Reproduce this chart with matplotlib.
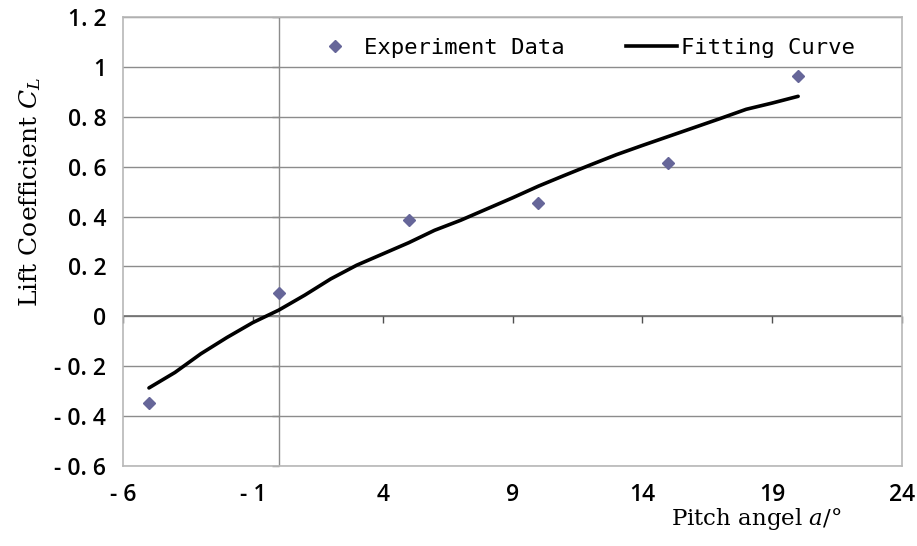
import numpy as np
import matplotlib.pyplot as plt
from matplotlib.lines import Line2D

plt.rcParams['mathtext.fontset'] = 'dejavuserif'

# experiment points
exp_angle = [-5, 0, 5, 10, 15, 20]
exp_cl = [-0.349, 0.093, 0.385, 0.453, 0.614, 0.965]

fit_angle = list(range(-5, 21))
fit_cl = [-0.287, -0.225, -0.15, -0.085, -0.025, 0.025, 0.085, 0.15, 0.205, 0.25,
          0.295, 0.345, 0.385, 0.43, 0.475, 0.522, 0.565, 0.607, 0.648, 0.685,
          0.721, 0.757, 0.793, 0.83, 0.855, 0.882]

xticks = [-6, -1, 4, 9, 14, 19, 24]
xtick_labels = ['- 6', '- 1', '4', '9', '14', '19', '24']
yticks = [-0.6, -0.4, -0.2, 0, 0.2, 0.4, 0.6, 0.8, 1.0, 1.2]
ytick_labels = ['- 0. 6', '- 0. 4', '- 0. 2', '0', '0. 2', '0. 4', '0. 6', '0. 8', '1', '1. 2']

fig = plt.figure(figsize=(9.17, 5.46), dpi=100)
ax = fig.add_axes([123/917, 1-466/546, 779/917, 449/546])

ax.set_xlim(-6, 24)
ax.set_ylim(-0.6, 1.2)
ax.set_xticks(xticks)
ax.set_xticklabels(xtick_labels)
ax.set_yticks(yticks)
ax.set_yticklabels(ytick_labels)
ax.tick_params(length=0, labelsize=16.5, pad=12)
for lab in ax.get_xticklabels() + ax.get_yticklabels():
    lab.set_family('Open Sans')
    lab.set_fontweight('semibold')

ax.yaxis.grid(True, color='#8c8c8c', lw=1)
ax.set_axisbelow(True)
for s in ax.spines.values():
    s.set_color('#b8b8b8')
    s.set_linewidth(1.2)

# axis lines crossing at zero, with their small ticks
ax.axhline(0, color='#707070', lw=1.2, zorder=1)
ax.axvline(0, color='#8c8c8c', lw=1, zorder=1)
ax.plot(xticks, np.zeros(len(xticks)), ls='none', marker=3, ms=5, mec='#505050', mew=1, clip_on=False)
ax.plot(np.zeros(len(yticks)), yticks, ls='none', marker=0, ms=5, mec='#8c8c8c', mew=1, clip_on=False)

ax.plot(fit_angle, fit_cl, color='black', lw=2.6, solid_capstyle='round', zorder=3)
ax.plot(exp_angle, exp_cl, ls='none', marker='D', ms=6.5, color='#666699', zorder=4)

handles = [Line2D([], [], ls='none', marker='D', ms=6, color='#666699'),
           Line2D([], [], color='black', lw=2.6)]
leg = ax.legend(handles, ['Experiment Data', 'Fitting Curve'], ncol=2, frameon=False,
                loc='center left', bbox_to_anchor=(0.225, 0.931), borderpad=0,
                handlelength=2.3, handletextpad=0.18, columnspacing=2.75,
                prop={'family': 'DejaVu Sans Mono', 'size': 16})

ax.set_xlabel('Pitch angel $a$/°', family='DejaVu Serif', fontsize=16.5)
ax.xaxis.set_label_coords(0.8126, -0.088)
ax.set_ylabel('Lift Coefficient $C_L$', family='DejaVu Serif', fontsize=18)
ax.yaxis.set_label_coords(-0.1027, 0.61)

fig.savefig('out.png', dpi=100)
